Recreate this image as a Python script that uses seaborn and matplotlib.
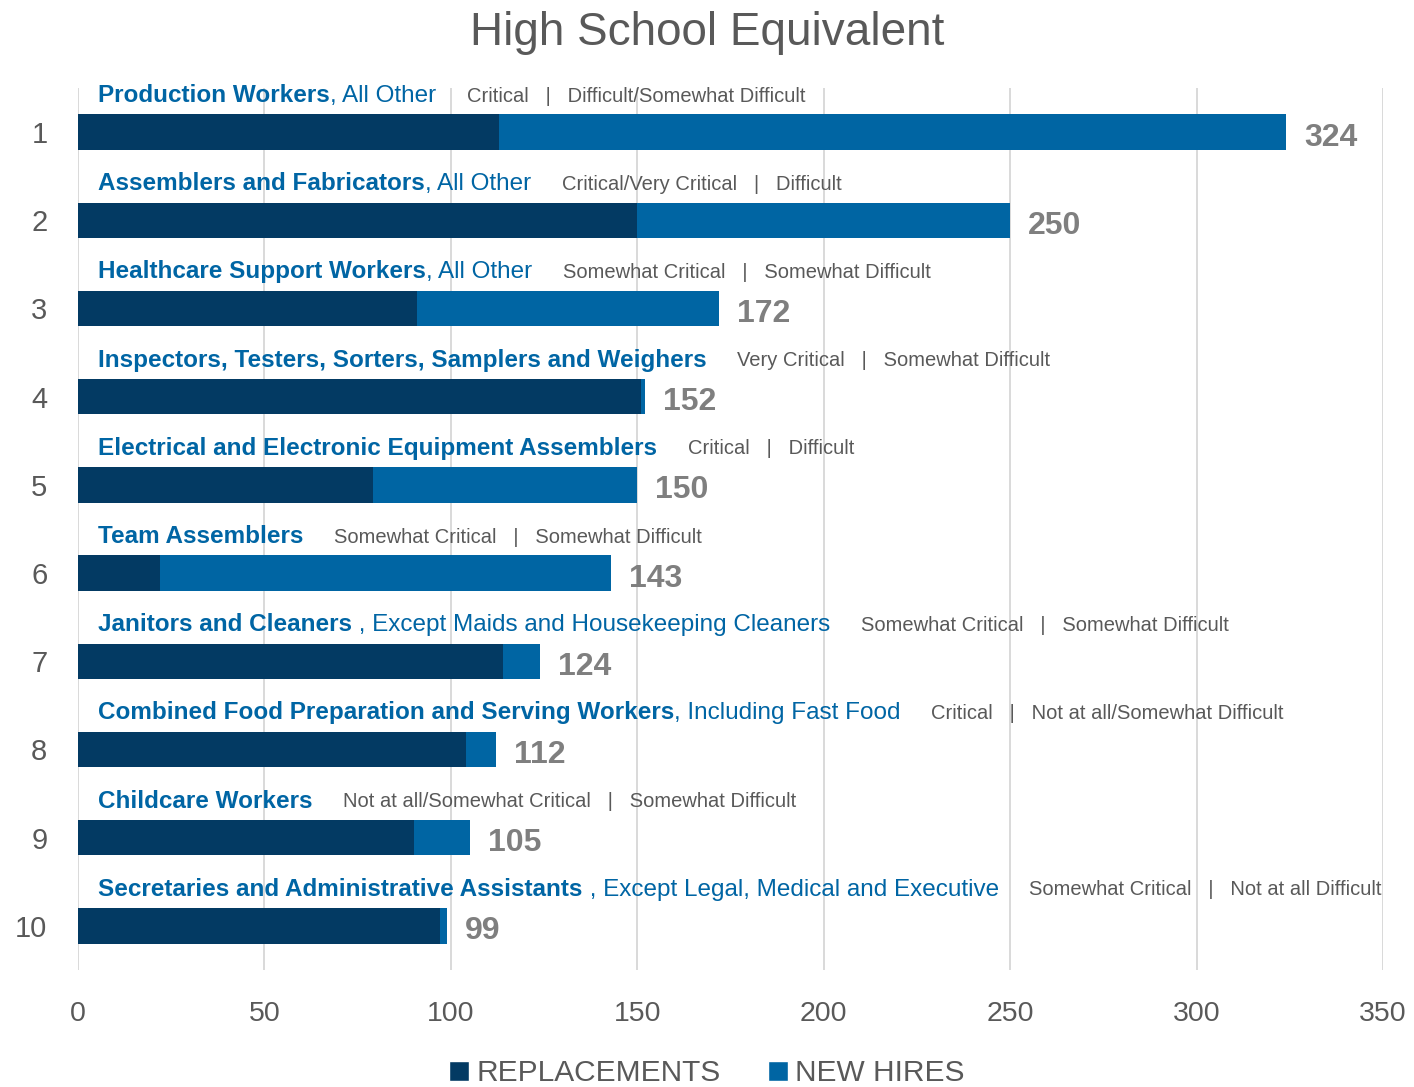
import matplotlib
matplotlib.use("Agg")
import matplotlib.pyplot as plt
from matplotlib.patches import Patch
import seaborn as sns
import pandas as pd

# Occupation data (high school equivalent)
ranks = ["1", "2", "3", "4", "5", "6", "7", "8", "9", "10"]
occupations = [
    "Production Workers",
    "Assemblers and Fabricators",
    "Healthcare Support Workers",
    "Inspectors, Testers, Sorters, Samplers and Weighers",
    "Electrical and Electronic Equipment Assemblers",
    "Team Assemblers",
    "Janitors and Cleaners",
    "Combined Food Preparation and Serving Workers",
    "Childcare Workers",
    "Secretaries and Administrative Assistants",
]
qualifiers = [
    ", All Other",
    ", All Other",
    ", All Other",
    "",
    "",
    "",
    " , Except Maids and Housekeeping Cleaners",
    ", Including Fast Food",
    "",
    " , Except Legal, Medical and Executive",
]
criticality = [
    "Critical", "Critical/Very Critical", "Somewhat Critical", "Very Critical",
    "Critical", "Somewhat Critical", "Somewhat Critical", "Critical",
    "Not at all/Somewhat Critical", "Somewhat Critical",
]
difficulty = [
    "Difficult/Somewhat Difficult", "Difficult", "Somewhat Difficult",
    "Somewhat Difficult", "Difficult", "Somewhat Difficult",
    "Somewhat Difficult", "Not at all/Somewhat Difficult",
    "Somewhat Difficult", "Not at all Difficult",
]
replacements = [113, 150, 91, 151, 79, 22, 114, 104, 90, 97]
new_hires = [211, 100, 81, 1, 71, 121, 10, 8, 15, 2]

totals = [r + n for r, n in zip(replacements, new_hires)]
df = pd.DataFrame({"rank": ranks, "replacements": replacements,
                   "new_hires": new_hires, "total": totals})

DARK = "#033A63"
BLUE = "#0065A3"
TEXT_BLUE = "#0065A4"
GRAY = "#595959"
LABEL_GRAY = "#7F7F7F"

sns.set_theme(style="white")
plt.rcParams["font.family"] = ["Liberation Sans Narrow", "Liberation Sans", "DejaVu Sans"]

fig = plt.figure(figsize=(14.14, 10.87), dpi=100)
ax = fig.add_axes([78 / 1414, 1 - 970 / 1087, (1383 - 78) / 1414, (970 - 88) / 1087])

# Stacked bars: total (new hires colour) underneath, replacements on top
sns.barplot(data=df, x="total", y="rank", order=ranks, orient="h",
            color=BLUE, saturation=1, width=0.4, linewidth=0, ax=ax)
sns.barplot(data=df, x="replacements", y="rank", order=ranks, orient="h",
            color=DARK, saturation=1, width=0.4, linewidth=0, ax=ax)

ax.set_xlim(0, 350)
ax.set_ylim(9.5, -0.5)
ax.set_xticks(range(0, 351, 50))
ax.set_xlabel("")
ax.set_ylabel("")
ax.xaxis.grid(True, color="#D9D9D9", linewidth=1.4)
ax.set_axisbelow(True)
for s in ax.spines.values():
    s.set_visible(False)
ax.tick_params(axis="x", length=0, pad=22, labelsize=20.5, labelcolor=GRAY)
ax.tick_params(axis="y", length=0, pad=22, labelsize=21, labelcolor=GRAY)

# Total labels at bar ends
for i, t in enumerate(totals):
    ax.annotate(str(t), xy=(t, i), xytext=(13, -4), textcoords="offset points",
                va="center", ha="left", fontsize=23, fontweight="bold",
                color=LABEL_GRAY)

# Occupation headings above each bar
for i in range(len(ranks)):
    t1 = ax.text(5.4, i - 0.285, occupations[i], fontsize=17.5, fontweight="bold",
                 color=TEXT_BLUE, va="bottom", ha="left")
    last = t1
    if qualifiers[i]:
        last = ax.annotate(qualifiers[i], xy=(1, 0), xycoords=t1, xytext=(0, 0),
                           textcoords="offset points", fontsize=17.5,
                           color=TEXT_BLUE, va="bottom", ha="left")
    ax.annotate(f"{criticality[i]}   |   {difficulty[i]}", xy=(1, 0),
                xycoords=last, xytext=(22, 1), textcoords="offset points",
                fontsize=14.5, color=GRAY, va="bottom", ha="left")

fig.suptitle("High School Equivalent", y=0.99, fontsize=33, color=GRAY, va="top")

handles = [Patch(facecolor=DARK, label="REPLACEMENTS"),
           Patch(facecolor=BLUE, label="NEW HIRES")]
fig.legend(handles=handles, loc="lower center", bbox_to_anchor=(0.5, -0.025),
           ncol=2, frameon=False, fontsize=21.5, labelcolor=GRAY,
           handlelength=0.65, handleheight=0.65, handletextpad=0.25,
           columnspacing=1.6)

fig.savefig("out.png", dpi=100)
